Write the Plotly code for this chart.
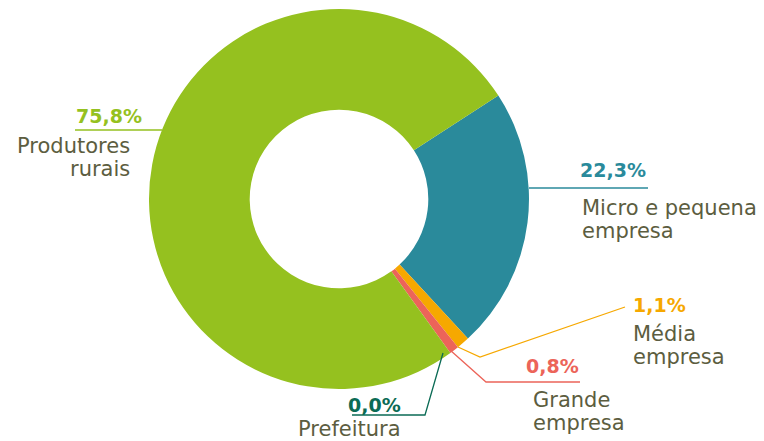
import plotly.graph_objects as go

# ---- data ----
categories = ["Micro e pequena empresa", "Média empresa", "Grande empresa", "Prefeitura", "Produtores rurais"]
values = [22.3, 1.1, 0.8, 0.0, 75.8]
pct_labels = ["22,3%", "1,1%", "0,8%", "0,0%", "75,8%"]
name_lines = [["Micro e pequena", "empresa"], ["Média", "empresa"], ["Grande", "empresa"], ["Prefeitura"], ["Produtores", "rurais"]]
colors = ["#2a8a9b", "#f6a800", "#ec6459", "#0b6b55", "#95c11f"]

# the page body has an 8px margin, so the figure is drawn 8px in from the corner
OFF = 8
W, H = 764 - OFF, 441 - OFF
FONT = "DejaVu Sans"
TEXT_COLOR = "#5c5d40"
LINE_GAP = 23

# donut geometry (window pixels)
cx, cy, R = 339, 199, 190


def px(x):
    return (x - OFF) / W


def py(y):
    return 1 - (y - OFF) / H


fig = go.Figure(go.Pie(
    labels=categories,
    values=values,
    marker=dict(colors=colors, line=dict(width=0)),
    hole=0.47,
    sort=False,
    direction="clockwise",
    rotation=57,
    textinfo="none",
    hoverinfo="label+percent",
    showlegend=False,
    domain=dict(x=[px(cx - R), px(cx + R)], y=[py(cy + R), py(cy - R)]),
))

# leader lines (window-pixel polylines); percent text (x, y-center, anchor); label first line (x, y-center, anchor)
layout_spec = {
    "Produtores rurais": dict(line=[(162, 130), (75, 130)], pct=(75, 115.5, "left"), lab=(131, 145.5, "right")),
    "Micro e pequena empresa": dict(line=[(529, 188), (648, 188)], pct=(647, 170, "right"), lab=(581, 207.5, "left")),
    "Média empresa": dict(line=[(458, 347), (480, 357), (625, 307)], pct=(632, 305, "left"), lab=(632, 334, "left")),
    "Grande empresa": dict(line=[(450, 350), (486, 382), (580, 382)], pct=(580, 365.5, "right"), lab=(532, 400, "left")),
    "Prefeitura": dict(line=[(443, 353), (425, 415), (352, 415)], pct=(402, 404.5, "right"), lab=(402, 428.5, "right")),
}

shapes = []
annotations = []
for cat, pct, lines, col in zip(categories, pct_labels, name_lines, colors):
    spec = layout_spec[cat]
    pts = spec["line"]
    path = "M " + " L ".join(f"{px(x)},{py(y)}" for x, y in pts)
    shapes.append(dict(type="path", path=path, xref="paper", yref="paper",
                       line=dict(color=col, width=1.3)))
    x, y, anc = spec["pct"]
    annotations.append(dict(x=px(x), y=py(y), xref="paper", yref="paper",
                            text=f"<b>{pct}</b>", showarrow=False,
                            xanchor=anc, yanchor="middle", borderpad=0,
                            font=dict(family=FONT, size=19, color=col)))
    x, y, anc = spec["lab"]
    for i, ln in enumerate(lines):
        annotations.append(dict(x=px(x), y=py(y + i * LINE_GAP), xref="paper", yref="paper",
                                text=ln, showarrow=False, align=anc,
                                xanchor=anc, yanchor="middle", borderpad=0,
                                font=dict(family=FONT, size=21, color=TEXT_COLOR)))

fig.update_layout(
    width=W, height=H,
    margin=dict(l=0, r=0, t=0, b=0),
    paper_bgcolor="white",
    plot_bgcolor="white",
    shapes=shapes,
    annotations=annotations,
)

fig.write_html("out.html")
